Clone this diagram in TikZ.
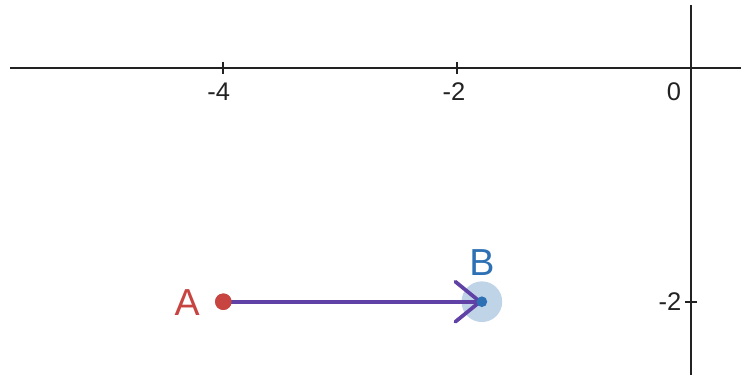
\documentclass[tikz,border=0pt]{standalone}
\usepackage{fontspec}
\setmainfont{Liberation Sans}
\usetikzlibrary{arrows.meta}

\definecolor{axisgray}{HTML}{222222}
\definecolor{ptred}{HTML}{C74440}
\definecolor{ptblue}{HTML}{2D70B3}
\definecolor{vecpurple}{HTML}{6042A6}

\begin{document}
\begin{tikzpicture}[x=2cm, y=2cm,
    axis/.style={draw=axisgray, line width=1pt},
    ticklabel/.style={text=axisgray, inner sep=0pt, font=\fontsize{12.4}{14}\selectfont},
    ptlabel/.style={inner sep=0pt, font=\fontsize{18.3}{21}\selectfont},
    vec/.style={draw=vecpurple, line width=1.8pt, line cap=round,
        -{Straight Barb[length=12pt, width=19.5pt, line width=1.8pt, round]}}]
    \useasboundingbox (-5.909,-2.626) rectangle (0.425,0.579);

    % Draw axes
    \draw[axis] (-5.823,0) -- (0.425,0);
    \draw[axis] (0,0.536) -- (0,-2.626);
    \draw[axis] (-4,0.05) -- (-4,-0.05);
    \draw[axis] (-2,0.05) -- (-2,-0.05);
    \draw[axis] (0.05,-2) -- (-0.05,-2);

    % Tick labels
    \node[ticklabel] (xm4) at (-4.04,-0.205) {-4};
    \node[ticklabel] (xm2) at (-2.028,-0.205) {-2};
    \node[ticklabel] (zero) at (-0.148,-0.208) {0};
    \node[ticklabel] (ym2) at (-0.183,-2.003) {-2};

    % Draw points
    \node[circle, fill=ptblue, fill opacity=0.3, minimum size=19.8pt, inner sep=0pt] (halo) at (-1.79,-2) {};
    \node[circle, fill=ptred, minimum size=8pt, inner sep=0pt] (A) at (-4,-2) {};
    \node[circle, inner sep=0pt, minimum size=0pt] (B) at (-1.79,-2) {};

    % Draw vector
    \draw[vec] (A.center) -- (B.center);
    \fill[ptblue] (B.center) circle (2.6pt);
    \fill[ptred] (A.center) circle (4pt);

    % Labels
    \node[ptlabel, text=ptred] (labA) at (-4.31,-2.003) {A};
    \node[ptlabel, text=ptblue] (labB) at (-1.789,-1.669) {B};
\end{tikzpicture}
\end{document}
